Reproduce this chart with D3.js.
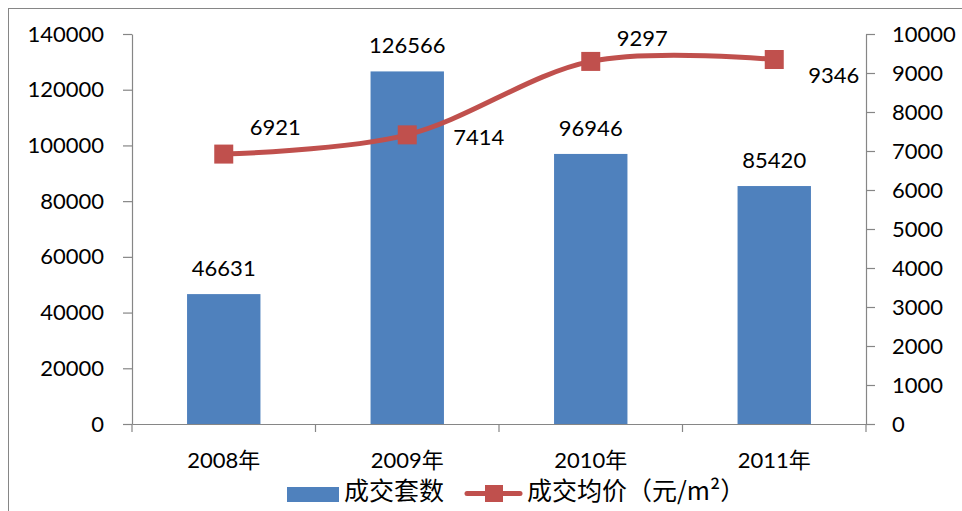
<!DOCTYPE html>
<html>
<head>
<meta charset="utf-8">
<script src="https://cdn.jsdelivr.net/npm/d3@7/dist/d3.min.js"></script>
<style>
  html, body { margin: 0; padding: 0; background: #fff; }
  svg { display: block; }
  text { font-family: Lato, "Noto Sans CJK SC", sans-serif; fill: #000; }
</style>
</head>
<body>
<svg id="chart" width="962" height="511"></svg>
<script>
// ---- data ----
const categories = ["2008年", "2009年", "2010年", "2011年"];
const dealCounts = [46631, 126566, 96946, 85420];
const avgPrices = [6921, 7414, 9297, 9346];
const leftTicks = [0, 20000, 40000, 60000, 80000, 100000, 120000, 140000];
const rightTicks = [0, 1000, 2000, 3000, 4000, 5000, 6000, 7000, 8000, 9000, 10000];
const seriesNames = ["成交套数", "成交均价（元/m²）"];

// ---- layout ----
const W = 962, H = 511;
const plot = { left: 132, right: 866, top: 34, bottom: 424 };
const barColor = "#4F81BD", lineColor = "#C0504D", axisColor = "#868686";
// label offsets (dx from point to label start, dy to baseline) for the line labels
const lineLabelOffsets = [[26, -19], [46, 10], [26, -15], [34, 23]];

const svg = d3.select("#chart");

// outer border
svg.append("rect").attr("x", 8.5).attr("y", 8.5).attr("width", W).attr("height", H)
  .attr("fill", "none").attr("stroke", axisColor).attr("stroke-width", 1);

const x = d3.scaleBand().domain(categories).range([plot.left, plot.right]).paddingInner(0.6).paddingOuter(0.3);
const xOuter = d3.scaleBand().domain(categories).range([plot.left, plot.right]).padding(0);
const yL = d3.scaleLinear().domain([0, 140000]).range([plot.bottom, plot.top]);
const yR = d3.scaleLinear().domain([0, 10000]).range([plot.bottom, plot.top]);

// bars
svg.append("g").selectAll("rect").data(dealCounts).join("rect")
  .attr("x", (d, i) => x(categories[i]))
  .attr("y", d => yL(d))
  .attr("width", x.bandwidth())
  .attr("height", d => plot.bottom - yL(d))
  .attr("fill", barColor);

// bar labels
svg.append("g").selectAll("text").data(dealCounts).join("text")
  .attr("x", (d, i) => x(categories[i]) + x.bandwidth() / 2)
  .attr("y", d => yL(d) - 18)
  .attr("text-anchor", "middle")
  .attr("font-size", 22)
  .text(d => d);

// left axis
const gL = svg.append("g").attr("transform", `translate(${plot.left},0)`)
  .call(d3.axisLeft(yL).tickValues(leftTicks).tickSize(9).tickSizeOuter(0).tickPadding(19).tickFormat(d3.format("d")));
// right axis
const gR = svg.append("g").attr("transform", `translate(${plot.right},0)`)
  .call(d3.axisRight(yR).tickValues(rightTicks).tickSize(9).tickSizeOuter(0).tickPadding(17).tickFormat(d3.format("d")));
// x axis
const gX = svg.append("g").attr("transform", `translate(0,${plot.bottom})`)
  .call(d3.axisBottom(xOuter).tickSize(0).tickSizeOuter(0).tickPadding(0));
gX.selectAll(".tick text").attr("y", 44).attr("dy", 0).attr("font-size", 22);
// boundary ticks on x axis
const bounds = categories.map(c => xOuter(c)).concat([plot.right]);
gX.append("g").selectAll("line").data(bounds).join("line")
  .attr("x1", d => d).attr("x2", d => d).attr("y1", 0).attr("y2", 8)
  .attr("stroke", axisColor);

[gL, gR, gX].forEach(g => {
  g.selectAll(".domain").attr("stroke", axisColor).attr("stroke-width", 1.2);
  g.selectAll(".tick line").attr("stroke", axisColor).attr("stroke-width", 1.2);
  g.selectAll(".tick text").attr("font-size", 22).attr("fill", "#000")
    .style("font-family", 'Lato, "Noto Sans CJK SC", sans-serif');
  g.attr("font-size", 22);
});
gX.selectAll("line").attr("stroke", axisColor).attr("stroke-width", 1.2);

// line
const cx = (i) => xOuter(categories[i]) + xOuter.bandwidth() / 2;
const line = d3.line().x((d, i) => cx(i)).y(d => yR(d)).curve(d3.curveCardinal.tension(0));
svg.append("path").datum(avgPrices).attr("d", line)
  .attr("fill", "none").attr("stroke", lineColor).attr("stroke-width", 5).attr("stroke-linecap", "round");

const ms = 19;
svg.append("g").selectAll("rect").data(avgPrices).join("rect")
  .attr("x", (d, i) => cx(i) - ms / 2)
  .attr("y", d => yR(d) - ms / 2)
  .attr("width", ms).attr("height", ms)
  .attr("fill", lineColor);

svg.append("g").selectAll("text").data(avgPrices).join("text")
  .attr("x", (d, i) => cx(i) + lineLabelOffsets[i][0])
  .attr("y", (d, i) => yR(d) + lineLabelOffsets[i][1])
  .attr("font-size", 22)
  .text(d => d);

// legend
const lg = svg.append("g");
lg.append("rect").attr("x", 287).attr("y", 487).attr("width", 52).attr("height", 15).attr("fill", barColor);
lg.append("text").attr("x", 344).attr("y", 500).attr("font-size", 25)
  .style("font-family", '"Noto Sans CJK SC", sans-serif').text(seriesNames[0]);
lg.append("line").attr("x1", 467).attr("x2", 520).attr("y1", 493.5).attr("y2", 493.5)
  .attr("stroke", lineColor).attr("stroke-width", 5).attr("stroke-linecap", "round");
lg.append("rect").attr("x", 485).attr("y", 485).attr("width", 18).attr("height", 17).attr("fill", lineColor);
lg.append("text").attr("x", 527).attr("y", 500).attr("font-size", 25)
  .style("font-family", '"Noto Sans CJK SC", sans-serif').text(seriesNames[1]);
</script>
</body>
</html>
